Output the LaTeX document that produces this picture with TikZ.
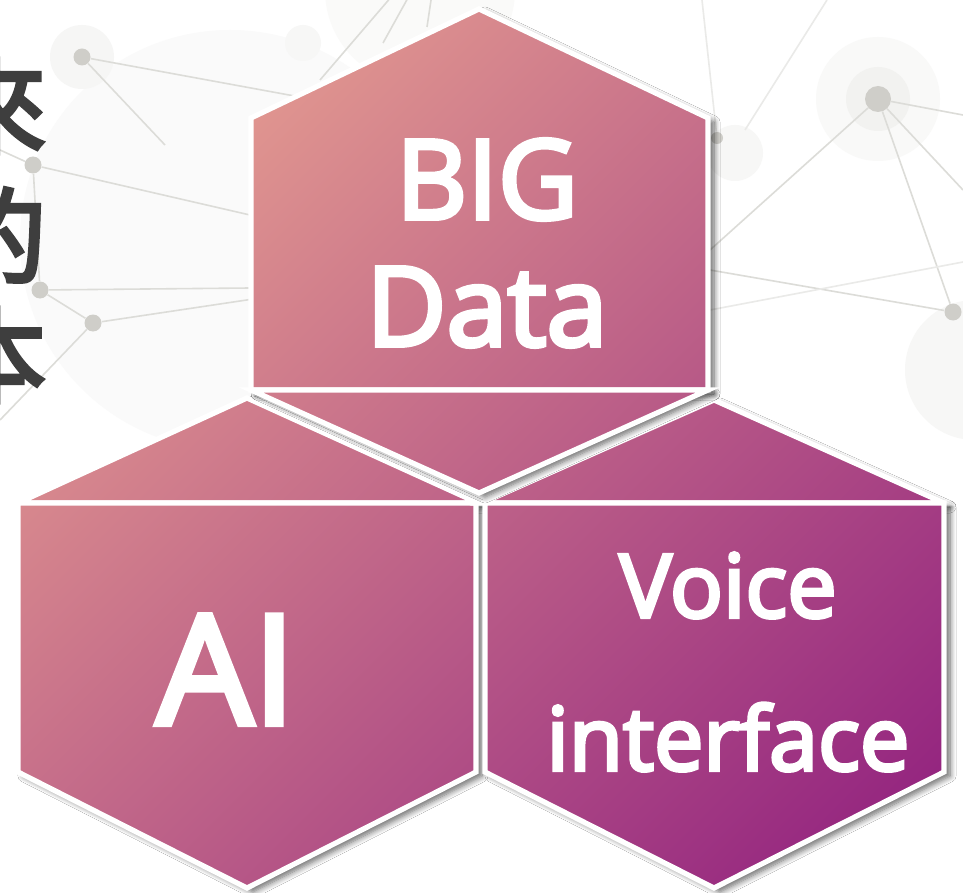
\documentclass[tikz,border=0pt]{standalone}
\usepackage{fontspec}
\setmainfont{Open Sans}
\newfontfamily\facefont{Open Sans}[FakeBold=4]
\newfontfamily\cjkfont{Noto Sans CJK TC}[FakeBold=3.5]
\usetikzlibrary{shadows.blur}

\definecolor{salmon}{HTML}{EEAA92}
\definecolor{rose}{HTML}{BD5A89}
\definecolor{plum}{HTML}{820A7C}
\definecolor{netline}{HTML}{DCDCD8}
\definecolor{netdot}{HTML}{CFCEC9}
\definecolor{halo}{HTML}{F2F2F0}
\definecolor{inkgray}{HTML}{3E3E3E}

\tikzset{
  face/.style={draw=white, line width=2.6pt, line join=miter},
  faceshadow/.style={fill=white, blur shadow={shadow xshift=3pt, shadow yshift=-2pt,
      shadow blur steps=8, shadow blur radius=3pt, shadow opacity=60}},
  net/.style={netline, line width=0.8pt},
  hub/.style={circle, fill=netdot, inner sep=0pt, minimum size=8.5pt},
  facetext/.style={text=white, inner sep=0pt, align=center},
  cjk/.style={text=inkgray, inner sep=0pt, anchor=east, font=\cjkfont\fontsize{52}{52}\selectfont}
}

% one face of the cube: shadow, gradient, white rim
\newcommand\facet[1]{%
  \path[faceshadow] #1;
  \begin{scope}
    \clip #1;
    \shade[left color=salmon, middle color=rose, right color=plum, shading angle=45]
      (-150,-150) rectangle (1263,1193);
  \end{scope}
  \draw[face] #1;
}

\begin{document}
\begin{tikzpicture}[x=0.5pt,y=-0.5pt]
\useasboundingbox (0,0) rectangle (963,893);
\clip (0,0) rectangle (963,893);
\fill[white] (0,0) rectangle (963,893);

% background network
\fill[halo!35] (230,240) circle (210);
\fill[halo!40] (420,-10) circle (95);
\fill[halo!60] (975,370) circle (70);
\fill[halo!70] (82,57) circle (32);
\fill[halo!60] (303,43) circle (18);
\fill[halo!45] (878,99) circle (62);
\fill[halo] (878,99) circle (32);
\fill[halo!60] (735,153) circle (28);

\coordinate (apex) at (440,-60);
\node[hub] (n1) at (82,57) {};
\node[hub] (n2) at (33,165) {};
\node[hub] (n3) at (40,290) {};
\node[hub] (n4) at (93,323) {};
\node[hub, minimum size=13pt] (n5) at (878,99) {};
\node[hub] (n6) at (953,312) {};
\node[hub, minimum size=6pt] (n7) at (717,138) {};

\draw[net] (n1) -- (300,97);
\draw[net] (n1) -- (165,145);
\draw[net] (n2) -- (0,150);
\draw[net] (n2) -- (n3);
\draw[net] (n2) -- (250,215);
\draw[net] (n3) -- (n4);
\draw[net] (n3) -- (250,288);
\draw[net] (n4) -- (260,298);
\draw[net] (n4) -- (0,420);
\draw[net] (apex) -- (320,80);
\draw[net] (apex) -- (383,43);
\draw[net] (apex) -- (427,27);
\draw[net] (n5) -- (963,115);
\draw[net] (n5) -- (710,250);
\draw[net] (n5) -- (n6);
\draw[net] (n5) -- (963,190);
\draw[net] (710,270) -- (n6);
\draw[net, netline!60] (710,310) -- (963,262);
\draw[net, netline!60] (702,0) -- (n7);
\draw[net, netline!60] (827,0) -- (745,130);

% left chars, cut at the edge
\node[cjk] (lai) at (47,106) {來};
\node[cjk] (de) at (47,235) {的};
\node[cjk] (ben) at (47,355) {本};

% bottom left: AI
\facet{(247,398) -- (478,503) -- (18,503) -- cycle}
\facet{(18,503) -- (476,503) -- (476,772) -- (247,888) -- (18,772) -- cycle}
% bottom right: Voice interface
\facet{(714,400) -- (944,503) -- (482,503) -- cycle}
\facet{(485,503) -- (944,503) -- (944,772) -- (714,888) -- (485,772) -- cycle}
% top: BIG Data
\facet{(479,9) -- (708,118) -- (708,390) -- (251,390) -- (251,118) -- cycle}
\facet{(251,390) -- (708,390) -- (479,493) -- cycle}

\node[facetext, font=\facefont\fontsize{55}{63.5}\selectfont] (bigdata) at (487,243) {BIG\\Data};
\node[facetext, font=\facefont\fontsize{76}{80}\selectfont, anchor=base] (ai) at (226,724) {AI};
\node[facetext, font=\facefont\fontsize{44}{76.5}\selectfont] (voice) at (728,662) {Voice\\interface};
\end{tikzpicture}
\end{document}
